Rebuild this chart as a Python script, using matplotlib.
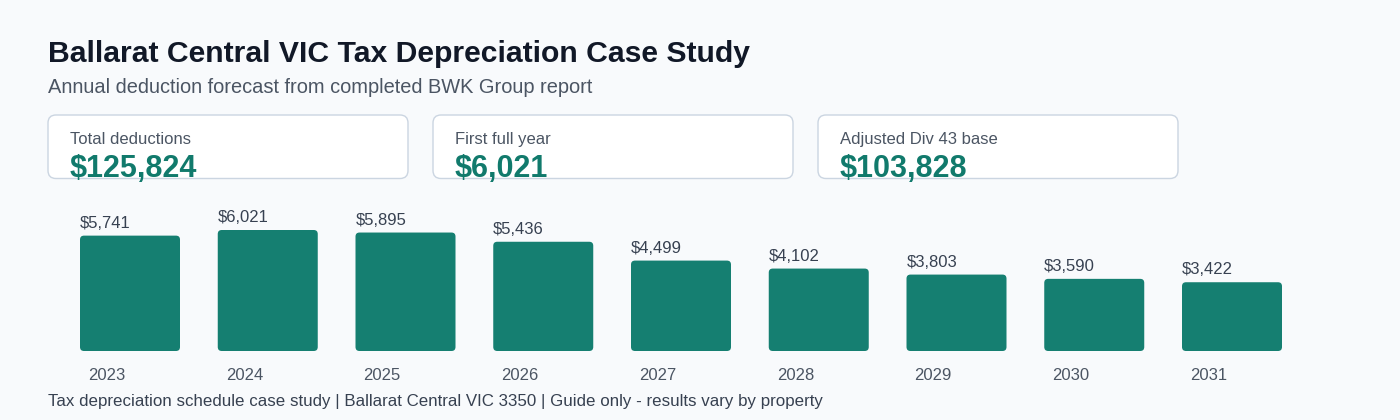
import matplotlib
matplotlib.use("Agg")
import matplotlib.pyplot as plt
from matplotlib.patches import FancyBboxPatch
from matplotlib.transforms import Affine2D

# ---- data ----
years = ["2023", "2024", "2025", "2026", "2027", "2028", "2029", "2030", "2031"]
deductions = [5741, 6021, 5895, 5436, 4499, 4102, 3803, 3590, 3422]
card_labels = ["Total deductions", "First full year", "Adjusted Div 43 base"]
card_values = ["$125,824", "$6,021", "$103,828"]
title = "Ballarat Central VIC Tax Depreciation Case Study"
subtitle = "Annual deduction forecast from completed BWK Group report"
footer = "Tax depreciation schedule case study | Ballarat Central VIC 3350 | Guide only - results vary by property"

# ---- style ----
BG = "#f8fafc"
TEAL = "#157f71"
TEAL_TXT = "#117a6c"
DARK = "#111827"
GRAY = "#4b5563"
FOOT = "#374151"
BORDER = "#cbd5e1"
FONT = "Liberation Sans"

W, H = 1400, 420
fig = plt.figure(figsize=(W / 100, H / 100), dpi=100, facecolor=BG)
plt.rcParams["font.family"] = [FONT, "DejaVu Sans"]

# pixel transform (origin bottom-left, isotropic pixels)
px = Affine2D().scale(1 / 100) + fig.dpi_scale_trans


def ftext(x, y_top, s, **kw):
    return fig.text(x, H - y_top, s, transform=px, **kw)


ftext(48, 62, title, fontsize=21.7, fontweight="bold", color=DARK, va="baseline")
ftext(48, 93, subtitle, fontsize=14.4, color=GRAY, va="baseline")

card_x = [48, 433, 818]
card_w, card_top, card_bot = 360, 115, 178.5
for cx, lab, val in zip(card_x, card_labels, card_values):
    card = FancyBboxPatch((cx, H - card_bot), card_w, card_bot - card_top,
                          boxstyle="round,pad=0,rounding_size=8",
                          transform=px, facecolor="white", edgecolor=BORDER,
                          linewidth=1.0, zorder=1)
    fig.patches.append(card)
    ftext(cx + 22, 144, lab, fontsize=12, color=GRAY, va="baseline", zorder=2)
    t = ftext(cx + 22, 177.5, val, fontsize=22, fontweight="bold",
              color=TEAL_TXT, va="baseline", zorder=2)
    t.set_clip_path(card)

# ---- bars axes ----
step = 137.75
first_center = 130
bar_w = 100 / step
ax_left_px, ax_right_px = 48, 1330
ax_bot_px, ax_top_px = 351, 200
ax = fig.add_axes([ax_left_px / W, 1 - ax_bot_px / H,
                   (ax_right_px - ax_left_px) / W, (ax_bot_px - ax_top_px) / H])
ax.set_facecolor("none")
ax.set_xlim((ax_left_px - first_center) / step, (ax_right_px - first_center) / step)
ax.set_ylim(0, 6021 * (ax_bot_px - ax_top_px) / 121)
for s in ax.spines.values():
    s.set_visible(False)
ax.set_xticks([])
ax.set_yticks([])

ppx = ax.transData.transform((1, 0))[0] - ax.transData.transform((0, 0))[0]
ppy = ax.transData.transform((0, 1))[1] - ax.transData.transform((0, 0))[1]
r = 4 / ppx
for i, (yr, v) in enumerate(zip(years, deductions)):
    x0 = i - bar_w / 2
    bar = FancyBboxPatch((x0, 0), bar_w, v,
                         boxstyle=f"round,pad=0,rounding_size={r}",
                         mutation_aspect=ppx / ppy,
                         facecolor=TEAL, edgecolor="none", zorder=2)
    ax.add_patch(bar)
    ax.annotate(f"${v:,}", xy=(x0, v), xytext=(0, 8 * 0.72), textcoords="offset points",
                ha="left", va="baseline", fontsize=12, color=FOOT, annotation_clip=False)
    ax.annotate(yr, xy=(x0, 0), xytext=(8 * 0.72, -29 * 0.72), textcoords="offset points",
                ha="left", va="baseline", fontsize=12, color=GRAY, annotation_clip=False)

ftext(48, 406, footer, fontsize=12.2, color=FOOT, va="baseline")

fig.savefig("out.png", dpi=100, facecolor=BG)
